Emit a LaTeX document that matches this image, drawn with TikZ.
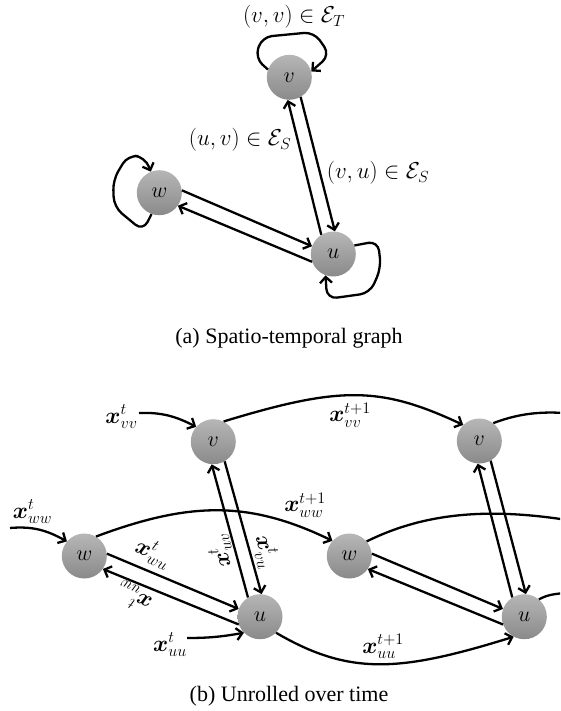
\RequirePackage{fix-cm}
\documentclass[tikz,border=0pt]{standalone}
\usepackage{amsmath,amssymb}
\usepackage{fontspec}
\setmainfont{Liberation Serif}
\usetikzlibrary{arrows.meta,calc}
\definecolor{ntop}{RGB}{182,182,182}
\definecolor{nbot}{RGB}{138,138,138}
\begin{document}
\begin{tikzpicture}[x=1pt,y=-1pt,
  gnode/.style={circle, minimum size=45pt, inner sep=0pt, top color=ntop, bottom color=nbot, font=\fontsize{22}{26}\selectfont},
  edge/.style={line width=2.3pt, -{Straight Barb[length=6pt,width=12pt]}, line join=round},
  plain/.style={line width=2.3pt},
  lab/.style={font=\fontsize{23}{27}\selectfont, inner sep=0pt},
  caption/.style={font=\fontsize{22}{26}\selectfont, inner sep=0pt},
  loopedge/.style={edge, rounded corners=10pt}
]
\useasboundingbox (0,0) rectangle (560,711);
\clip (0,0) rectangle (560,711);

% ---------- (a) ----------
\node[gnode] (va) at (289.3,77.3) {$v$};
\node[gnode] (wa) at (159.3,192.7) {$w$};
\node[gnode] (ua) at (333.3,254) {$u$};

\draw[edge] (va.-60) -- (ua.86);
\draw[edge] (ua.122) -- (va.-94);
\draw[edge] (wa.6) -- (ua.160);
\draw[edge] (ua.200) -- (wa.-35);

\draw[loopedge] (va.160) -- (255,58) -- (262,37) -- (314,32) -- (330,55) -- (va.15);
\draw[loopedge] (wa.250) -- (143,231) -- (114,207) -- (113,180) -- (128,155) -- (145,157) -- (wa.112);
\draw[loopedge] (ua.22) -- (378,241) -- (381,268) -- (370,293) -- (327,299) -- (ua.-110);

\node[lab] (lvv) at (294,17) {$(v,v)\in\mathcal{E}_T$};
\node[lab] (luv) at (240,140) {$(u,v)\in\mathcal{E}_S$};
\node[lab] (lvu) at (378,173) {$(v,u)\in\mathcal{E}_S$};
\node[caption] (capa) at (289,338) {(a) Spatio-temporal graph};

% ---------- (b) ----------
\node[gnode] (v1) at (213.3,441.7) {$v$};
\node[gnode] (w1) at (84.3,556) {$w$};
\node[gnode] (u1) at (260,616.7) {$u$};
\node[gnode] (v2) at (479.3,441) {$v$};
\node[gnode] (w2) at (349.3,556) {$w$};
\node[gnode] (u2) at (524.3,616.7) {$u$};

% inputs
\coordinate (invv) at (139,413);
\coordinate (inww) at (10,528);
\coordinate (inuu) at (187,638);
\draw[edge] (invv) to[out=2,in=153] (v1.139);
\draw[edge] (inww) to[out=5,in=151] (w1.140);
\draw[edge] (inuu) to[out=0,in=190] (u1.225);

% temporal
\draw[edge] (v1.63) .. controls (340,386) and (380,386) .. (v2.135);
\draw[edge] (w1.59) .. controls (191,501) and (250,501) .. (w2.138);
\draw[edge] (u1.-45) .. controls (350,676) and (400,672) .. (u2.-118);

% outgoing (clipped)
\coordinate (outv) at (600,418);
\coordinate (outw) at (620,530);
\coordinate (outu) at (600,590);
\draw[plain] (v2.52) .. controls (520,413) and (550,408) .. (outv);
\draw[plain] (w2.40) .. controls (440,505) and (520,508) .. (outw);
\draw[plain] (u2.50) .. controls (550,594) .. (outu);

% spatial
\draw[edge] (v1.-60) -- (u1.86);
\draw[edge] (u1.122) -- (v1.-94);
\draw[edge] (w1.6) -- (u1.160);
\draw[edge] (u1.200) -- (w1.-35);
\draw[edge] (v2.-60) -- (u2.86);
\draw[edge] (u2.122) -- (v2.-94);
\draw[edge] (w2.6) -- (u2.160);
\draw[edge] (u2.200) -- (w2.-35);

% labels
\node[lab] (xvv) at (121.5,417) {$\boldsymbol{x}^t_{vv}$};
\node[lab] (xww) at (32.5,512) {$\boldsymbol{x}^t_{ww}$};
\node[lab] (xuu) at (170,645) {$\boldsymbol{x}^t_{uu}$};
\node[lab] (xvv1) at (350,415) {$\boldsymbol{x}^{t+1}_{vv}$};
\node[lab] (xww1) at (305,505) {$\boldsymbol{x}^{t+1}_{ww}$};
\node[lab] (xuu1) at (383,646.5) {$\boldsymbol{x}^{t+1}_{uu}$};
\node[lab, rotate=-23] (xwu) at (153,553) {$\boldsymbol{x}^t_{wu}$};
\node[lab, rotate=157] (xuw) at (134,597) {$\boldsymbol{x}^t_{uw}$};
\node[lab, rotate=105] (xuv) at (220.5,551.5) {$\boldsymbol{x}^t_{uv}$};
\node[lab, rotate=-75] (xvu) at (266,551.5) {$\boldsymbol{x}^t_{vu}$};
\node[caption] (capb) at (289,696) {(b) Unrolled over time};
\end{tikzpicture}
\end{document}
